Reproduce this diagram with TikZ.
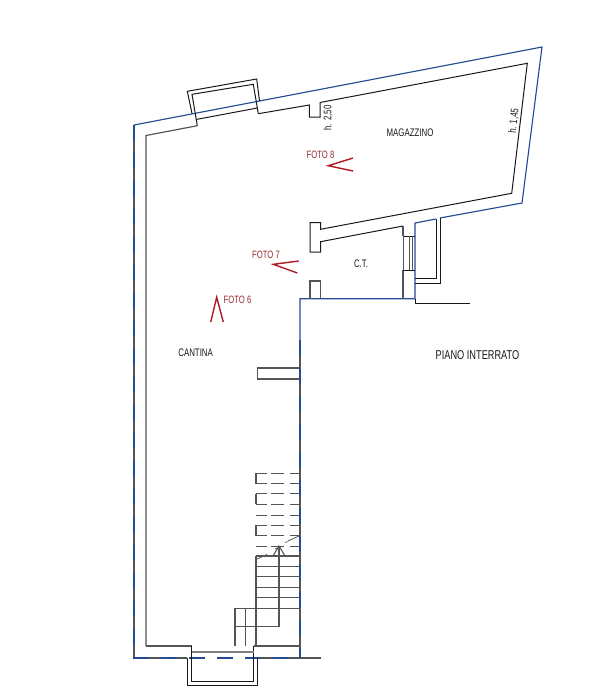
\documentclass[tikz,border=0pt]{standalone}
\usepackage{fontspec}
\newfontfamily\cadfont[FakeStretch=0.72]{Liberation Sans}
\definecolor{wallblue}{RGB}{35,75,150}
\definecolor{wallink}{RGB}{25,25,25}
\definecolor{grayink}{RGB}{85,85,85}
\definecolor{photored}{RGB}{175,25,35}
\definecolor{photolabel}{RGB}{150,45,50}
\tikzset{
  wall/.style={draw=wallink,line width=0.75pt,line join=miter},
  heavywall/.style={draw=grayink,line width=1.05pt},
  bluewall/.style={draw=wallblue,line width=0.85pt},
  bluedash/.style={draw=wallblue,line width=1pt,dash pattern=on 12pt off 9pt},
  thingray/.style={draw=grayink,line width=0.6pt},
  treads/.style={draw=grayink,line width=0.8pt},
  hidden/.style={draw=grayink,line width=0.7pt,dash pattern=on 8.25pt off 3pt on 9.75pt off 4.5pt on 7.5pt off 0pt},
  photoarrow/.style={draw=photored,line width=1.05pt,line join=miter},
  label/.style={font=\cadfont\fontsize{8.2}{9}\selectfont,text=wallink,inner sep=0pt},
  photolbl/.style={font=\cadfont\fontsize{8}{9}\selectfont,text=photolabel,inner sep=0pt}
}
\begin{document}
\begin{tikzpicture}[x=0.75pt,y=-0.75pt]
\useasboundingbox (0,0) rectangle (616,694);
\fill[white] (0,0) rectangle (616,694);

% outer perimeter
\draw[heavywall] (134,125) -- (134,658) -- (187,658);
\draw[heavywall] (258,658) -- (321,658);
\draw[heavywall] (300,340) -- (300,658);
\draw[bluewall] (134,125) -- (542,47) -- (522,203) -- (440,218);
\draw[bluewall] (436,219) -- (415,223) -- (415,298.7) -- (300,298.7) -- (300,340);
\draw[bluedash] (300,340) -- (300,658);
\draw[bluedash] (134,125) -- (134,658) -- (300,658);
\draw[wall] (415,298.7) -- (415,303) -- (470,303);

% inner perimeter, north
\draw[heavywall,line width=0.9pt] (146,646) -- (146,135.5) -- (197.3,125.7);
\draw[wall] (258.3,113.7) -- (309.3,105) -- (309.3,117) -- (320,117) -- (320,102.5)
  -- (527.3,63.3) -- (511.7,193.3) -- (320.5,229.3) -- (320.5,222.7) -- (310,222.7)
  -- (310,252) -- (320.5,252) -- (320.5,241.7) -- (403,226);
\draw[heavywall] (403,226) -- (403,236);
\draw[heavywall] (403,270) -- (403,298.7);
\draw[heavywall] (310,298.7) -- (310,281) -- (320.5,281) -- (320.5,298.7);
% door to side shaft
\draw[wall] (403,236) -- (415,236);
\draw[wall] (403,270) -- (415,270);
\draw[thingray,line width=0.35pt] (403,236) -- (403,270) (409,236) -- (409,270) (412,236) -- (412,270);
% side shaft
\draw[wall] (436,219) -- (436,278) -- (415,278);
\draw[wall] (440.5,218) -- (440.5,283) -- (415,283);

% north window
\draw[wall] (192,113.5) -- (187.3,91.3) -- (256.7,79) -- (259.5,101);
\draw[wall] (197.3,125.7) -- (192,94.3) -- (253.3,84.3) -- (258.3,113.7);
\draw[wall] (197,119.3) -- (257.3,108);

% stub wall
\draw[heavywall] (300,368) -- (257.7,368) -- (257.7,379) -- (300,379);

% inner south wall and south window
\draw[heavywall] (146,646) -- (191.7,646);
\draw[heavywall] (253.5,646) -- (300,646);
\draw[wall] (191.7,646) -- (191.7,681) -- (253.5,681) -- (253.5,646);
\draw[wall] (187,658) -- (187,685.7) -- (257.7,685.7) -- (257.7,658);
\draw[thingray,line width=1pt,draw=gray] (191.7,652) -- (253.5,652);

% stairs: hidden flight
\foreach \yy in {473.3,483.7,493.7,504,515,525,535.7,546}{
  \draw[hidden] (256,\yy) -- (300,\yy);
}
\draw[treads] (256,473.3) -- (256,483.7) (256,493.7) -- (256,504) (256,525) -- (256,536);
\draw[treads,line width=0.6pt] (256,559.5) -- (265,555.5);
\draw[treads,line width=0.5pt,dash pattern=on 2pt off 7pt] (265,555.5) -- (288,541);
\draw[treads,line width=0.6pt] (288,541) -- (300,535.5);
% stairs: visible flight
\foreach \yy in {556,566.7,576.7,587.3,597.7,608.3}{
  \draw[treads] (256,\yy) -- (300,\yy);
}
\draw[treads] (256,556) -- (256,646);
\draw[treads] (279,546) -- (279,626.7);
\draw[treads] (273,556) -- (279,546) -- (285,556);
\draw[heavywall,line width=0.85pt] (235,608.3) -- (256,608.3);
\draw[treads] (235,608.3) -- (235,646) (245.3,608.3) -- (245.3,646) (235,626.7) -- (279,626.7);

% photo viewpoints
\draw[photoarrow] (353,158) -- (328.3,165.7) -- (353,171);
\draw[photoarrow] (298.7,261) -- (273.3,264.3) -- (297.3,273);
\draw[photoarrow] (210.7,322) -- (216.7,297.3) -- (223.3,322);

% labels
\node[label,rotate=90] (hnord) at (328,118) {h. 2,50};
\node[label,rotate=84] (hest) at (514,121) {h. 1,45};
\node[label] (magazzino) at (410,133) {MAGAZZINO};
\node[label] (ct) at (361,263.7) {C.T.};
\node[label] (cantina) at (195.6,352.6) {CANTINA};
\node[label,font=\cadfont\fontsize{9.6}{10}\selectfont] (piano) at (477.5,355) {PIANO INTERRATO};
\node[photolbl] (foto8) at (320.5,154.5) {FOTO 8};
\node[photolbl] (foto7) at (266,254.5) {FOTO 7};
\node[photolbl] (foto6) at (237.5,299.5) {FOTO 6};
\end{tikzpicture}
\end{document}
